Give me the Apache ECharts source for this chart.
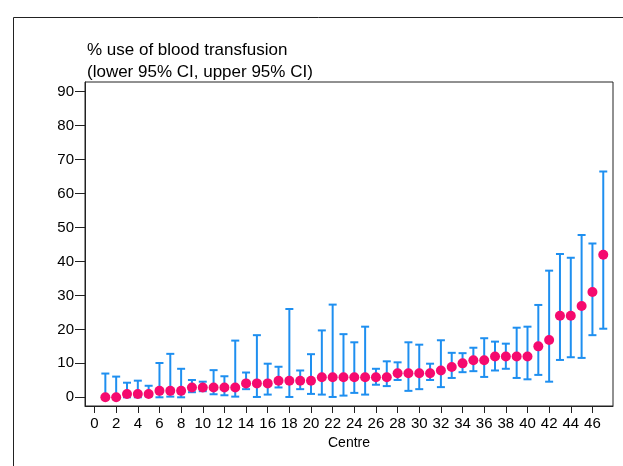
<!DOCTYPE html>
<html>
<head>
<meta charset="utf-8">
<script src="https://cdn.jsdelivr.net/npm/echarts@6/dist/echarts.min.js"></script>
<style>
html,body{margin:0;padding:0;background:#fff;}
#chart{width:623px;height:466px;}
</style>
</head>
<body>
<div id="chart"></div>
<script>
var centres = [];
for (var i = 1; i <= 47; i++) centres.push(i);
var estimate = [0,0,1,1,1,1.9,1.9,1.9,2.9,2.9,2.9,2.9,2.9,4.1,4.1,4.1,4.9,4.9,4.9,4.9,5.9,5.9,5.9,5.9,5.9,5.9,5.9,7.1,7.1,7.1,7.1,7.9,8.9,10.0,10.9,10.9,12,12,12,12,15,16.9,24,24,26.9,31,42];
var lowerCI = [0,0,0,0,0.3,0,0.2,0,1.5,1.8,0.9,0.6,0.2,2.4,0.1,0.8,2.9,0.1,2.4,1.0,0.8,0.1,0.5,1.3,0.8,3.7,3.3,5.1,1.9,2.4,5.1,3.0,5.7,7.4,7.7,6.0,7.9,8.4,5.7,5.3,6.6,4.6,11.0,11.8,11.6,18.3,20.2];
var upperCI = [7.0,6.1,4.3,4.9,3.4,10.1,12.8,8.4,5.1,4.6,8.0,6.2,16.7,7.3,18.3,9.9,9.0,26.0,7.9,12.7,19.7,27.3,18.6,16.2,20.8,8.4,10.6,10.3,16.2,15.5,9.9,16.8,13.1,13.0,14.6,17.4,16.4,15.8,20.5,20.8,27.2,37.3,42.2,41.1,47.8,45.3,66.5];
var xTicks = [0,2,4,6,8,10,12,14,16,18,20,22,24,26,28,30,32,34,36,38,40,42,44,46];
var yTicks = [0,10,20,30,40,50,60,70,80,90];

var font = 'Liberation Sans, Arial, sans-serif';
var errData = centres.map(function(c, i){ return [c, lowerCI[i], upperCI[i]]; });
var ptData = centres.map(function(c, i){ return [c, estimate[i]]; });

var chart = echarts.init(document.getElementById('chart'), null, {renderer: 'canvas'});
chart.setOption({
  animation: false,
  backgroundColor: '#fff',
  graphic: [{
    type: 'rect', left: 11, top: 15, z: -10,
    shape: {width: 700, height: 600},
    style: {fill: 'none', stroke: '#222', lineWidth: 1}
  }],
  title: {
    text: '% use of blood transfusion\n(lower 95% CI, upper 95% CI)',
    left: 82, top: 34,
    textStyle: {fontFamily: font, fontSize: 17, fontWeight: 'normal', color: '#000', lineHeight: 22}
  },
  grid: {left: 85, top: 82, right: 10, bottom: 60, show: true, borderColor: '#222', borderWidth: 1, backgroundColor: '#fff'},
  xAxis: {
    type: 'value', min: -0.88, max: 47.9,
    name: 'Centre', nameLocation: 'middle', nameGap: 29,
    nameTextStyle: {fontFamily: font, fontSize: 14, color: '#000'},
    axisLine: {show: true, onZero: false, lineStyle: {color: '#222', width: 1}},
    axisTick: {show: true, length: 7, customValues: xTicks, lineStyle: {color: '#222'}},
    axisLabel: {customValues: xTicks, margin: 10, fontFamily: font, fontSize: 15, color: '#000'},
    splitLine: {show: false}
  },
  yAxis: {
    type: 'value', min: -2.56, max: 92.86,
    axisLine: {show: true, onZero: false, lineStyle: {color: '#222', width: 1}},
    axisTick: {show: true, length: 10, customValues: yTicks, lineStyle: {color: '#222'}},
    axisLabel: {customValues: yTicks, margin: 11, fontFamily: font, fontSize: 15, color: '#000'},
    splitLine: {show: false}
  },
  series: [{
    type: 'custom',
    data: errData,
    z: 2,
    renderItem: function(params, api){
      var x = api.value(0);
      var lo = api.coord([x, api.value(1)]);
      var hi = api.coord([x, api.value(2)]);
      var hw = 4;
      var st = {stroke: '#1e8ff0', lineWidth: 2, fill: null};
      return {
        type: 'group',
        children: [
          {type: 'line', shape: {x1: lo[0], y1: lo[1], x2: hi[0], y2: hi[1]}, style: st},
          {type: 'line', shape: {x1: lo[0]-hw, y1: lo[1], x2: lo[0]+hw, y2: lo[1]}, style: st},
          {type: 'line', shape: {x1: hi[0]-hw, y1: hi[1], x2: hi[0]+hw, y2: hi[1]}, style: st}
        ]
      };
    }
  }, {
    type: 'scatter',
    data: ptData,
    z: 3,
    symbol: 'circle',
    symbolSize: 10,
    itemStyle: {color: '#f50a6e', opacity: 1}
  }]
});
</script>
</body>
</html>
